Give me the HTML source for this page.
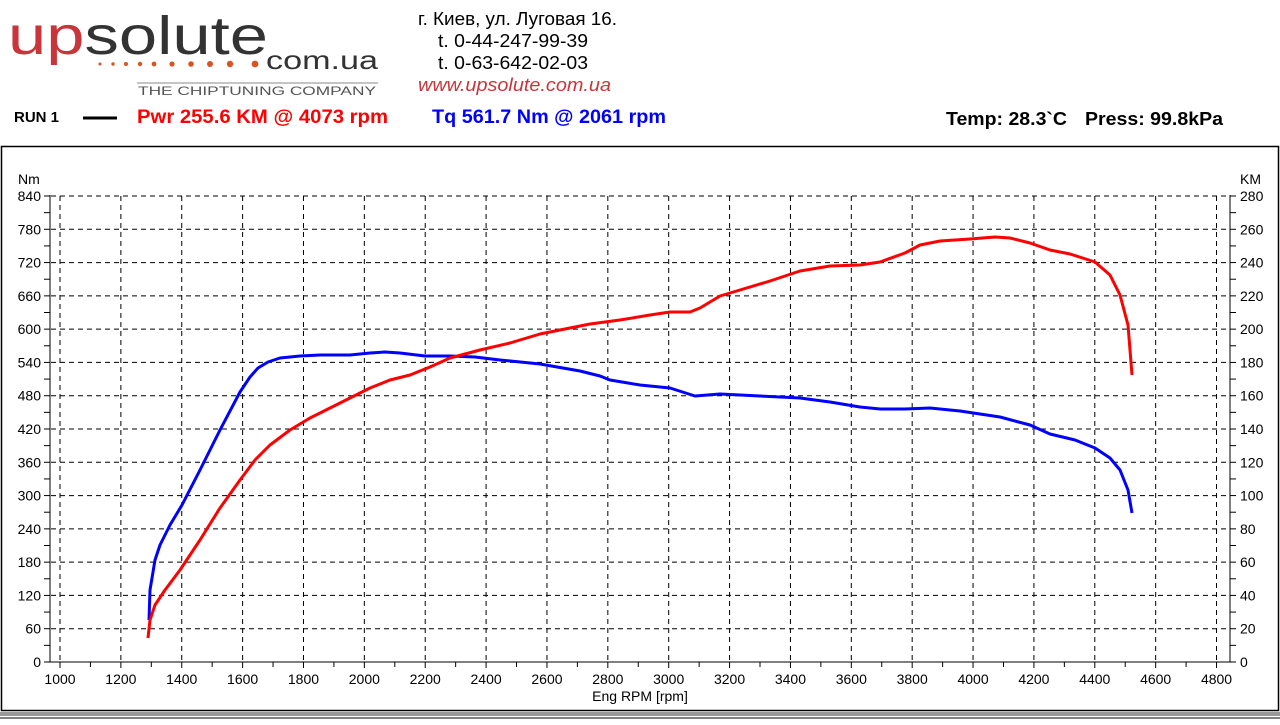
<!DOCTYPE html>
<html><head><meta charset="utf-8"><style>
body{margin:0;width:1280px;height:720px;background:#fff;overflow:hidden;font-family:"Liberation Sans",Arial,sans-serif;}
</style></head><body>
<svg width="1280" height="720" xmlns="http://www.w3.org/2000/svg" font-family="Liberation Sans, Arial, sans-serif">
<text x="8" y="54" font-size="54" textLength="260" lengthAdjust="spacingAndGlyphs"><tspan fill="#c8353a">up</tspan><tspan fill="#333">solute</tspan></text>
<g fill="#d9541e">
<circle cx="100" cy="64" r="1.5"/><circle cx="113" cy="64" r="1.7"/><circle cx="126" cy="64" r="2"/><circle cx="140" cy="64" r="2.2"/><circle cx="154" cy="64" r="2.4"/><circle cx="172" cy="64" r="2.6"/><circle cx="191" cy="64" r="2.8"/><circle cx="210" cy="64" r="3"/><circle cx="230" cy="64" r="3.2"/><circle cx="255" cy="64" r="3.4"/></g>
<text x="266" y="69" font-size="26" fill="#333" textLength="112" lengthAdjust="spacingAndGlyphs">com.ua</text>
<line x1="137" y1="83" x2="378" y2="83" stroke="#888" stroke-width="1"/>
<text x="138" y="95" font-size="12" fill="#555" textLength="238" lengthAdjust="spacingAndGlyphs">THE CHIPTUNING COMPANY</text>
<text x="418" y="25" font-size="18.5" fill="#000" textLength="199" lengthAdjust="spacingAndGlyphs">г. Киев, ул. Луговая 16.</text>
<text x="438" y="47" font-size="18.5" fill="#000" textLength="150" lengthAdjust="spacingAndGlyphs">t. 0-44-247-99-39</text>
<text x="438" y="69" font-size="18.5" fill="#000" textLength="150" lengthAdjust="spacingAndGlyphs">t. 0-63-642-02-03</text>
<text x="418" y="91" font-size="18.5" fill="#c8353a" font-style="italic" textLength="193" lengthAdjust="spacingAndGlyphs">www.upsolute.com.ua</text>
<text x="14" y="122" font-size="15" font-weight="bold">RUN 1</text>
<line x1="83" y1="118" x2="117" y2="118" stroke="#000" stroke-width="3"/>
<text x="137" y="123" font-size="19" font-weight="bold" fill="#f00" textLength="251" lengthAdjust="spacingAndGlyphs">Pwr  255.6 KM @ 4073 rpm</text>
<text x="432" y="123" font-size="19" font-weight="bold" fill="#00f" textLength="234" lengthAdjust="spacingAndGlyphs">Tq 561.7 Nm @ 2061 rpm</text>
<text x="946" y="125" font-size="18" font-weight="bold" textLength="121" lengthAdjust="spacingAndGlyphs">Temp: 28.3`C</text>
<text x="1085" y="125" font-size="18" font-weight="bold" textLength="138" lengthAdjust="spacingAndGlyphs">Press: 99.8kPa</text>
<rect x="1.5" y="146.5" width="1277" height="564" fill="none" stroke="#000" stroke-width="1.5"/>
<rect x="0" y="712" width="1280" height="4" fill="#999"/>
<line x1="0" y1="718" x2="1280" y2="718" stroke="#000"/>
<g id="grid" stroke="#000" stroke-dasharray="5,4" stroke-width="1"></g>
<g id="ax" stroke="#000" stroke-width="1"></g>
<g id="lab" font-size="14" fill="#000"></g>
<text x="18" y="184" font-size="14">Nm</text>
<text x="1240" y="184" font-size="14">KM</text>
<text x="640" y="701" font-size="14" text-anchor="middle">Eng RPM [rpm]</text>
<polyline fill="none" stroke="#00f" stroke-width="3" stroke-linejoin="round" points="149,620 150,590 155,560 160,545 170,525 182,505 200,470 220,430 240,392 250,377 258,368 268,362 280,358 300,356 320,355 350,355 370,353 385,352 400,353 425,356 450,356 475,357 500,360 540,364 580,371 600,376 610,380 640,385 670,388 695,396 720,394 760,396 800,398 830,402 860,407 880,409 905,409 930,408 960,411 1000,417 1030,425 1050,434 1075,440 1095,448 1110,458 1120,470 1128,490 1132,513"/>
<polyline fill="none" stroke="#f00" stroke-width="3" stroke-linejoin="round" points="148,638 150,620 155,605 165,590 180,570 200,540 220,508 240,480 255,460 270,445 290,430 310,418 330,408 350,398 370,388 390,380 410,375 430,367 450,358 480,350 510,343 540,334 570,328 590,324 620,320 650,315 670,312 690,312 700,308 720,296 740,290 770,281 800,271 830,266 860,265 880,262 905,253 920,245 940,241 970,239 995,237 1010,238 1030,243 1050,250 1070,254 1095,262 1110,275 1120,295 1128,325 1132,375"/>
<script>
var ns="http://www.w3.org/2000/svg",g=document.getElementById('grid'),a=document.getElementById('ax'),L=document.getElementById('lab');
function el(p,t,o){var e=document.createElementNS(ns,t);for(var k in o)e.setAttribute(k,o[k]);p.appendChild(e);return e;}
function X(r){return 60+(r-1000)*0.30435;}
function Y(v){return 662-v*466/840;}
for(var i=0;i<=14;i++){var v=i*60,y=Y(v);
 if(i>0)el(g,'line',{x1:51,y1:y,x2:1229,y2:y});
 el(a,'line',{x1:44,y1:y,x2:50,y2:y});el(a,'line',{x1:1230,y1:y,x2:1236,y2:y});
 var t=el(L,'text',{x:41,y:y+5,'text-anchor':'end'});t.textContent=v;
 var t2=el(L,'text',{x:1240,y:y+5});t2.textContent=i*20;
 if(i<14){var ym=Y(v+30);el(a,'line',{x1:44,y1:ym,x2:50,y2:ym});el(a,'line',{x1:1230,y1:ym,x2:1236,y2:ym});}
}
for(var r=1000;r<=4800;r+=100){var x=X(r);
 if(r%200==0){el(g,'line',{x1:x,y1:196,x2:x,y2:661});el(a,'line',{x1:x,y1:662,x2:x,y2:668});
 var t=el(L,'text',{x:x,y:684,'text-anchor':'middle'});t.textContent=r;}
 else el(a,'line',{x1:x,y1:662,x2:x,y2:667});
}
el(a,'line',{x1:50,y1:195,x2:50,y2:662});el(a,'line',{x1:1230,y1:195,x2:1230,y2:662});el(a,'line',{x1:50,y1:662,x2:1230,y2:662});
</script>
</svg>
</body></html>
